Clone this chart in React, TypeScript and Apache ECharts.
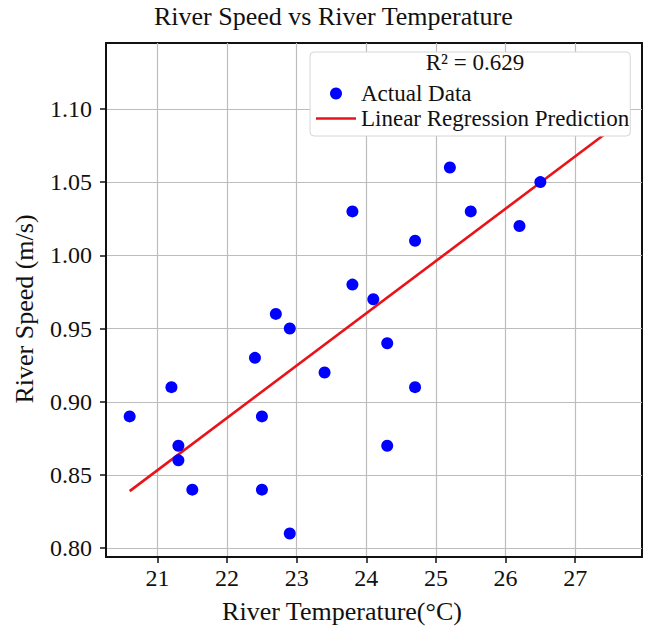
import React, { useEffect, useRef } from "react";
import * as echarts from "echarts";

const titleText = "River Speed vs River Temperature";
const xName = "River Temperature(°C)";
const yName = "River Speed (m/s)";
const r2Text = "R² = 0.629";
const scatterName = "Actual Data";
const lineName = "Linear Regression Prediction";

const temps = [20.6, 21.2, 21.3, 21.3, 21.5, 22.4, 22.5, 22.5, 22.7, 22.9, 22.9, 23.4, 23.8, 23.8, 24.1, 24.3, 24.3, 24.7, 24.7, 25.2, 25.5, 26.2, 26.5];
const speeds = [0.89, 0.91, 0.87, 0.86, 0.84, 0.93, 0.89, 0.84, 0.96, 0.95, 0.81, 0.92, 1.03, 0.98, 0.97, 0.94, 0.87, 1.01, 0.91, 1.06, 1.03, 1.02, 1.05];

const lineTemps = [20.6, 27.6];
const lineSpeeds = [0.839, 1.089];

const xTicks = [21, 22, 23, 24, 25, 26, 27];
const yTicks = [0.8, 0.85, 0.9, 0.95, 1.0, 1.05, 1.1];

const FONT = "'Liberation Serif', 'Times New Roman', serif";

export default function App() {
  const ref = useRef<HTMLDivElement>(null);
  useEffect(() => {
    if (!ref.current) return;
    const chart = echarts.init(ref.current, undefined, { renderer: "svg" });
    const scatterData = temps.map((t, i) => [t, speeds[i]]);
    const lineData = lineTemps.map((t, i) => [t, lineSpeeds[i]]);
    chart.setOption({
      animation: false,
      backgroundColor: "#ffffff",
      textStyle: { fontFamily: FONT },
      title: {
        text: titleText,
        left: 154,
        top: 0,
        padding: [3, 0, 4, 0],
        textStyle: { fontFamily: FONT, fontSize: 26, fontWeight: "normal", color: "#111" },
      },
      grid: {
        left: 106,
        right: 5,
        top: 43,
        bottom: 73,
        show: true,
        borderColor: "#111",
        borderWidth: 2,
        backgroundColor: "#fff",
      },
      xAxis: {
        type: "value",
        min: 20.26,
        max: 27.96,
        splitNumber: 8,
        name: xName,
        nameLocation: "middle",
        nameGap: 41,
        nameTextStyle: { fontFamily: FONT, fontSize: 26, color: "#111", padding: [0, 64, 0, 0] },
        axisLine: { show: true, onZero: false, lineStyle: { color: "#111", width: 2 } },
        axisTick: { show: true, length: 6, customValues: xTicks, lineStyle: { color: "#111", width: 1.5 } },
        axisLabel: {
          customValues: xTicks,
          margin: 9,
          fontFamily: FONT,
          fontSize: 24,
          color: "#111",
          formatter: (v: number) => String(Math.round(v)),
        },
        splitLine: { show: true, lineStyle: { color: "#bdbdbd", width: 1.2 } },
      },
      yAxis: {
        type: "value",
        min: 0.794,
        max: 1.145,
        splitNumber: 7,
        name: yName,
        nameLocation: "middle",
        nameRotate: 90,
        nameGap: 69,
        nameTextStyle: { fontFamily: FONT, fontSize: 26, color: "#111", padding: [0, 18, 0, 0] },
        axisLine: { show: true, onZero: false, lineStyle: { color: "#111", width: 2 } },
        axisTick: { show: true, length: 6, customValues: yTicks, lineStyle: { color: "#111", width: 1.5 } },
        axisLabel: {
          customValues: yTicks,
          margin: 14,
          fontFamily: FONT,
          fontSize: 24,
          color: "#111",
          formatter: (v: number) => v.toFixed(2),
        },
        splitLine: { show: true, lineStyle: { color: "#bdbdbd", width: 1.2 } },
      },
      legend: {
        orient: "vertical",
        left: 310,
        top: 52,
        padding: [30, 1, 6, 6],
        itemGap: 2,
        itemWidth: 40,
        itemHeight: 12,
        backgroundColor: "#ffffff",
        borderColor: "#d6d6d6",
        borderWidth: 1,
        borderRadius: 4,
        z: 10,
        textStyle: { fontFamily: FONT, fontSize: 23, color: "#111" },
        data: [
          { name: scatterName, icon: "circle" },
          { name: lineName, icon: "path://M0 0H40V2.6H0Z", itemStyle: { color: "#e8141a" } },
        ],
      },
      graphic: [
        {
          type: "text",
          z: 100,
          x: 475,
          y: 62,
          style: {
            text: r2Text,
            fontFamily: FONT,
            fontSize: 23,
            fill: "#111",
            align: "center",
            verticalAlign: "middle",
          },
        },
      ],
      series: [
        {
          name: lineName,
          type: "line",
          data: lineData,
          symbol: "none",
          showSymbol: false,
          z: 2,
          lineStyle: { color: "#e8141a", width: 2.6 },
          itemStyle: { color: "#e8141a" },
        },
        {
          name: scatterName,
          type: "scatter",
          data: scatterData,
          symbol: "circle",
          symbolSize: 12,
          z: 3,
          itemStyle: { color: "#0000ff", opacity: 1 },
        },
      ],
    });
    return () => chart.dispose();
  }, []);
  return <div ref={ref} style={{ width: 647, height: 630, position: "absolute", left: 0, top: 0 }} />;
}
